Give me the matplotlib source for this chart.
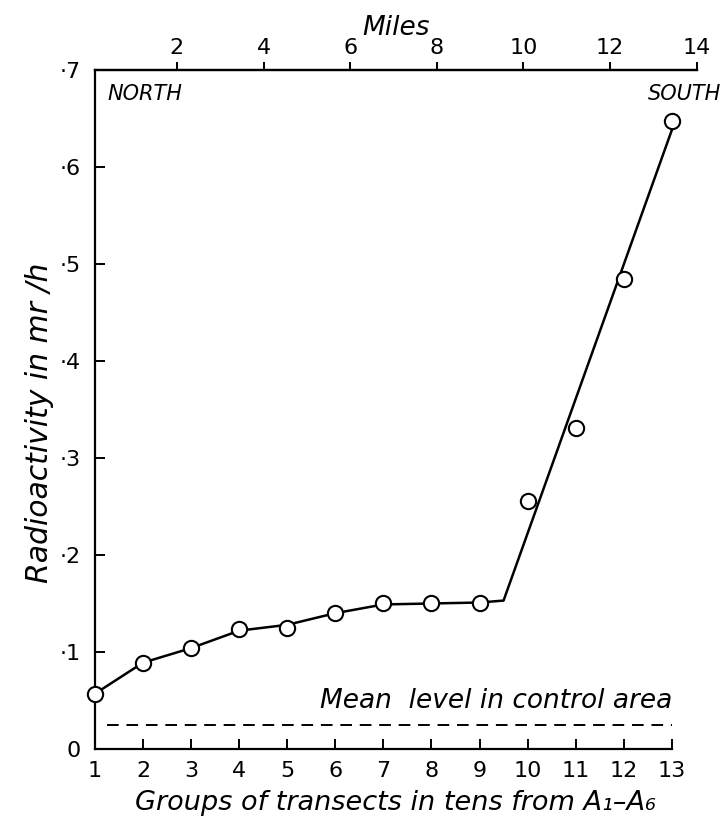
import matplotlib.pyplot as plt

groups = [1, 2, 3, 4, 5, 6, 7, 8, 9, 10, 11, 12, 13]
activity = [0.057, 0.089, 0.104, 0.124, 0.125, 0.140, 0.150, 0.150, 0.151,
            0.256, 0.331, 0.485, 0.647]

# hand-drawn fit: smooth part through groups 1-9, then a straight rise
fit_x = [1, 2, 3, 4, 5, 6, 7, 8, 9, 9.5, 13]
fit_y = [0.057, 0.089, 0.104, 0.122, 0.128, 0.140, 0.149, 0.150, 0.151, 0.153, 0.638]

control_level = 0.025

y_ticks = [0, 0.1, 0.2, 0.3, 0.4, 0.5, 0.6, 0.7]
y_labels = ['0', '·1', '·2', '·3', '·4', '·5', '·6', '·7']
mile_ticks = [2, 4, 6, 8, 10, 12, 14]

# miles <-> transect group mapping
G0, G_PER_MILE = 0.902, 0.9012


def g2m(g):
    return (g - G0) / G_PER_MILE


def m2g(m):
    return G0 + G_PER_MILE * m


plt.rcParams['font.family'] = 'DejaVu Sans'

fig = plt.figure(figsize=(7.25, 8.19), dpi=100)
ax = fig.add_axes([0.131, 0.0855, 0.830, 0.829])

ax.plot(fit_x, fit_y, color='black', lw=1.8, zorder=2)
ax.plot(groups, activity, 'o', ms=11, mfc='white', mec='black', mew=1.5,
        zorder=5, clip_on=False)
ax.plot([1.25, 13], [control_level, control_level], color='black', lw=1.4,
        ls=(0, (6, 4)))
ax.text(13, 0.036, 'Mean  level in control area', ha='right', va='bottom',
        fontsize=19, style='italic')

ax.set_xlim(1, m2g(14))
ax.set_ylim(0, 0.7)

for s in ['left', 'bottom', 'top']:
    ax.spines[s].set_linewidth(1.6)
ax.spines['right'].set_visible(False)
ax.spines['bottom'].set_bounds(1, 13)

ax.set_xticks(groups)
ax.set_xticklabels([str(g) for g in groups])
ax.set_yticks(y_ticks)
ax.set_yticklabels(y_labels)
ax.tick_params(axis='both', direction='in', length=7, width=1.4, labelsize=16)
ax.tick_params(axis='x', pad=9)
ax.tick_params(axis='y', pad=10)

ax.set_xlabel('Groups of transects in tens from A₁–A₆', fontsize=19.5,
              style='italic', labelpad=6)
ax.set_ylabel('Radioactivity in mr /h', fontsize=21.5, style='italic')
ax.yaxis.set_label_coords(-0.068, 0.48)

sec = ax.secondary_xaxis('top', functions=(g2m, m2g))
sec.set_xticks(mile_ticks)
sec.set_xticklabels([str(m) for m in mile_ticks])
sec.tick_params(direction='out', length=6, width=1.4, labelsize=16, pad=3)
sec.spines['top'].set_linewidth(1.6)
sec.set_xlabel('Miles', fontsize=19, style='italic', labelpad=2)

ax.text(1.25, 0.686, 'NORTH', ha='left', va='top', fontsize=15, style='italic')
fig.text(0.995, 0.898, 'SOUTH', ha='right', va='top', fontsize=15,
         style='italic')

fig.savefig('out.png', dpi=100)
